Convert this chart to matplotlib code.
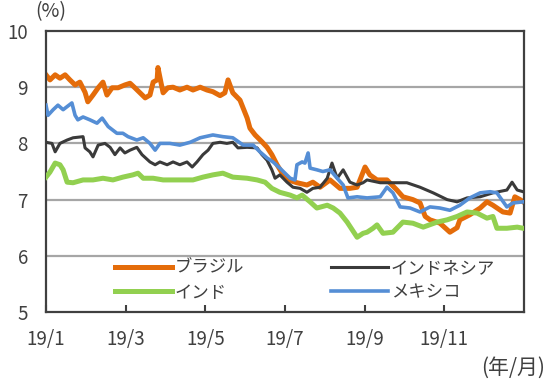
import matplotlib
matplotlib.use('Agg')
import matplotlib.pyplot as plt

plt.rcParams['font.family'] = ['Noto Sans CJK JP', 'DejaVu Sans']

# time axis in months since 2019-01-01
brazil_t = [0.0,0.10,0.23,0.35,0.48,0.60,0.73,0.85,0.98,1.05,1.18,1.31,1.43,1.53,1.66,1.81,1.98,2.11,2.23,2.36,
            2.49,2.61,2.69,2.79,2.81,2.89,2.94,3.06,3.19,3.36,3.54,3.69,3.87,4.04,4.19,4.37,4.49,4.57,4.69,4.87,
            5.05,5.12,5.25,5.42,5.55,5.67,5.80,5.93,6.08,6.30,6.55,6.70,6.88,7.13,7.38,7.63,7.81,8.01,8.13,8.31,
            8.56,8.81,8.96,9.21,9.39,9.52,9.64,9.89,10.14,10.32,10.39,10.64,10.90,11.07,11.22,11.47,11.65,11.77,11.90,12.0]
brazil_v = [9.22,9.13,9.22,9.16,9.22,9.13,9.04,9.09,8.91,8.74,8.86,8.99,9.09,8.86,8.99,8.99,9.04,9.07,8.99,8.90,
            8.81,8.86,9.09,9.13,9.35,9.07,8.90,8.99,9.00,8.95,9.00,8.95,9.00,8.95,8.92,8.85,8.90,9.13,8.90,8.77,
            8.45,8.27,8.15,8.03,7.93,7.80,7.62,7.47,7.35,7.30,7.26,7.31,7.22,7.35,7.20,7.20,7.22,7.58,7.44,7.35,
            7.35,7.17,7.05,7.00,6.94,6.70,6.64,6.58,6.42,6.50,6.64,6.73,6.85,6.96,6.90,6.78,6.76,7.05,7.00,6.95]

indonesia_t = [0.0,0.15,0.23,0.35,0.53,0.68,0.93,0.98,1.10,1.18,1.31,1.48,1.61,1.73,1.86,1.98,2.11,2.28,2.41,2.61,
               2.74,2.86,3.04,3.19,3.36,3.54,3.67,3.79,3.94,4.07,4.19,4.37,4.54,4.69,4.82,5.05,5.30,5.42,5.55,5.67,
               5.75,5.87,6.05,6.20,6.38,6.55,6.70,6.88,7.06,7.18,7.31,7.46,7.63,7.81,7.96,8.06,8.39,8.71,9.06,9.39,
               9.72,10.07,10.32,10.57,10.90,11.22,11.57,11.70,11.83,11.98]
indonesia_v = [8.02,8.00,7.85,8.00,8.06,8.10,8.12,7.92,7.85,7.76,7.97,8.00,7.93,7.80,7.92,7.83,7.88,7.93,7.80,7.67,
               7.62,7.67,7.62,7.67,7.62,7.67,7.58,7.67,7.80,7.88,8.00,8.02,8.00,8.02,7.92,7.93,7.92,7.80,7.70,7.53,
               7.38,7.44,7.31,7.22,7.20,7.13,7.20,7.22,7.38,7.65,7.38,7.53,7.31,7.26,7.30,7.35,7.30,7.30,7.30,7.22,
               7.12,7.00,6.96,7.03,7.05,7.12,7.17,7.31,7.17,7.14]

india_t = [0.0,0.10,0.23,0.35,0.43,0.53,0.68,0.93,1.18,1.43,1.68,1.93,2.18,2.31,2.44,2.69,2.94,3.19,3.44,3.69,
           3.94,4.19,4.44,4.69,5.05,5.30,5.50,5.67,5.87,6.13,6.30,6.43,6.63,6.80,7.06,7.21,7.38,7.56,7.81,7.96,
           8.06,8.21,8.31,8.46,8.71,8.96,9.21,9.47,9.82,10.07,10.32,10.57,10.82,11.07,11.22,11.32,11.57,11.83,11.98]
india_v = [7.40,7.49,7.65,7.62,7.53,7.31,7.30,7.35,7.35,7.38,7.35,7.40,7.44,7.47,7.38,7.38,7.35,7.35,7.35,7.35,
           7.40,7.44,7.47,7.40,7.38,7.35,7.31,7.20,7.13,7.08,7.03,7.08,6.96,6.85,6.90,6.85,6.76,6.60,6.33,6.40,
           6.42,6.49,6.55,6.40,6.42,6.60,6.58,6.51,6.60,6.64,6.70,6.78,6.76,6.67,6.70,6.49,6.49,6.51,6.49]

mexico_t = [0.0,0.05,0.18,0.30,0.43,0.65,0.73,0.80,0.93,1.10,1.28,1.41,1.56,1.78,1.93,2.06,2.28,2.44,2.61,2.74,
            2.86,3.11,3.36,3.62,3.87,4.19,4.44,4.69,4.95,5.20,5.37,5.55,5.70,5.87,6.13,6.25,6.30,6.43,6.50,6.58,
            6.63,6.80,6.95,7.13,7.31,7.46,7.58,7.81,8.06,8.39,8.56,8.71,8.89,9.14,9.39,9.64,9.89,10.14,10.39,10.64,
            10.90,11.15,11.32,11.57,11.72,11.98]
mexico_v = [8.68,8.50,8.60,8.68,8.60,8.72,8.50,8.42,8.47,8.42,8.36,8.45,8.30,8.18,8.18,8.12,8.06,8.10,8.00,7.88,
            8.00,8.00,7.97,8.02,8.10,8.15,8.12,8.10,7.97,7.97,7.85,7.74,7.67,7.56,7.38,7.35,7.62,7.67,7.65,7.83,
            7.56,7.53,7.50,7.53,7.38,7.26,7.03,7.05,7.03,7.05,7.22,7.12,6.87,6.85,6.78,6.87,6.85,6.81,6.90,7.03,
            7.12,7.14,7.12,6.87,6.94,6.96]

xticks = [0, 2, 4, 6, 8, 10]
xlabels = ['19/1', '19/3', '19/5', '19/7', '19/9', '19/11']
yticks = [5, 6, 7, 8, 9, 10]

fig = plt.figure(figsize=(5.5, 3.8), dpi=100)
ax = fig.add_axes([46/550, 68/380, 478/550, 281/380])

for y in [6, 7, 8, 9]:
    ax.axhline(y, color='#a6a6a6', lw=1.6, zorder=1)

ax.plot(brazil_t, brazil_v, color='#e46c0a', lw=3.6, label='ブラジル', zorder=2)
ax.plot(indonesia_t, indonesia_v, color='#3a3a3a', lw=2.2, label='インドネシア', zorder=3)
ax.plot(india_t, india_v, color='#92d050', lw=3.6, label='インド', zorder=3)
ax.plot(mexico_t, mexico_v, color='#558ed5', lw=2.6, label='メキシコ', zorder=4)

ax.set_xlim(0, 12)
ax.set_ylim(5, 10)
ax.set_xticks(xticks)
ax.set_xticklabels(xlabels)
ax.set_yticks(yticks)
ax.tick_params(axis='x', direction='in', length=5, width=1.5, color='#404040',
               labelsize=13.5, labelcolor='#404040', pad=12)
ax.tick_params(axis='y', length=0, labelsize=13.5, labelcolor='#404040', pad=13)
for s in ax.spines.values():
    s.set_color('#404040')
    s.set_linewidth(1.6)

fig.text(51/550, 1 - 12/380, '(%)', ha='center', va='center', fontsize=14, color='#404040')
fig.text(513/550, 1 - 368/380, '(年/月)', ha='center', va='center', fontsize=15, color='#404040')

h, l = ax.get_legend_handles_labels()
order = [0, 2, 1, 3]
ax.legend([h[i] for i in order], [l[i] for i in order], ncol=2, frameon=False,
          loc='upper left', bbox_to_anchor=(0.144, 0.19), borderaxespad=0, borderpad=0,
          fontsize=12.5, handlelength=3.3, handletextpad=0.15, columnspacing=5.0, labelspacing=0.4,
          labelcolor='#404040')

fig.savefig('out.png', dpi=100)
